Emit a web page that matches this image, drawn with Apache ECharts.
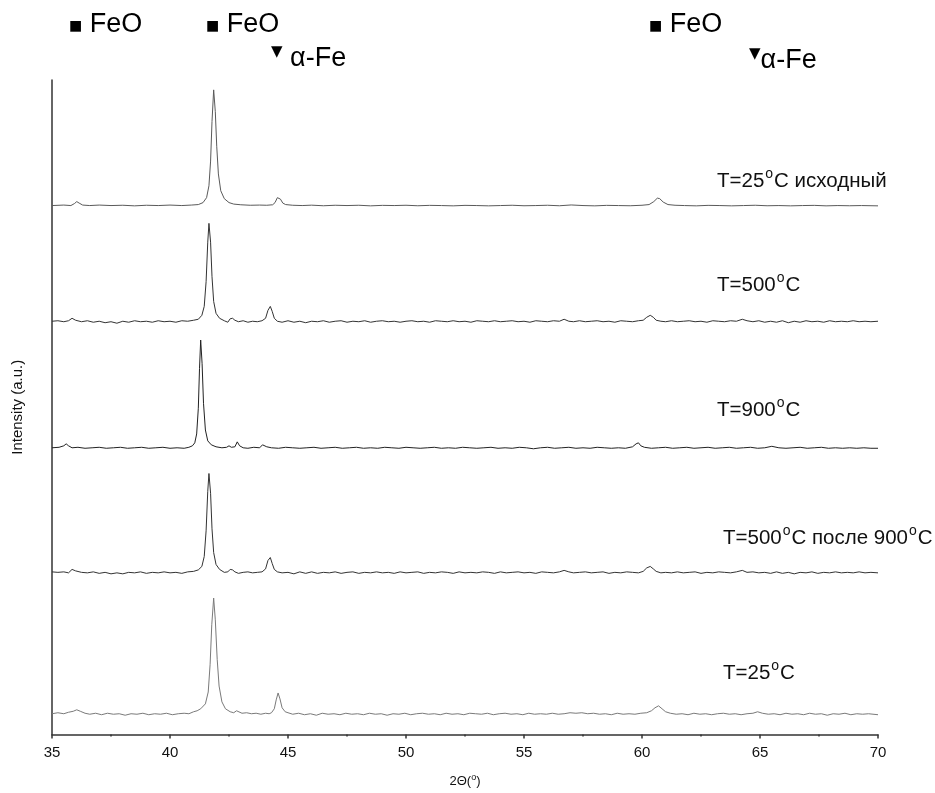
<!DOCTYPE html>
<html>
<head>
<meta charset="utf-8">
<script src="https://cdn.jsdelivr.net/npm/echarts@6/dist/echarts.min.js"></script>
<style>
html,body{margin:0;padding:0;background:#fff;}
#chart{width:935px;height:793px;}
</style>
</head>
<body>
<div id="chart"></div>
<script>
// ---- data (2θ in degrees, intensity in arbitrary units above each trace's own baseline) ----
const traceNames = ['T=25°C исходный', 'T=500°C', 'T=900°C', 'T=500°C после 900°C', 'T=25°C'];
const traceOffsets = [535, 418, 290, 164, 21];

const t25initial = [
[35.0,0],[35.5,0.5],[35.8,0],[35.95,2],[36.05,4],[36.15,2.5],[36.3,0.5],[36.6,0],[37.0,0.5],[37.5,0],[38.0,0.3],[38.5,-0.3],[39.0,0.3],[39.5,0],[40.0,0.5],[40.5,0],[40.9,0.5],[41.2,1],[41.4,3],[41.55,8],[41.65,20],[41.72,45],[41.78,85],[41.85,117],[41.92,95],[41.98,60],[42.05,32],[42.15,15],[42.3,7],[42.5,3],[42.7,1.5],[43.0,0.8],[43.4,0.3],[43.8,0.5],[44.1,0.3],[44.35,0.8],[44.45,3],[44.55,8],[44.6,9],[44.68,6.5],[44.78,2.5],[44.9,1],[45.2,0.3],[45.6,0],[46.0,0.4],[46.5,-0.2],[47.0,0.3],[47.5,0],[48.0,0.3],[48.5,-0.3],[49.0,0.2],[49.5,0],[50.0,0.3],[50.5,-0.2],[51.0,0.2],[51.5,0],[52.0,-0.3],[52.5,0.2],[53.0,0],[53.5,-0.3],[54.0,0],[54.5,0.3],[55.0,-0.2],[55.5,0],[56.0,0.3],[56.5,-0.2],[57.0,0.6],[57.5,0],[58.0,-0.3],[58.5,0.2],[59.0,0],[59.5,-0.2],[60.0,0.3],[60.3,1],[60.5,4],[60.65,7.5],[60.75,7],[60.9,3.5],[61.1,1],[61.4,0.3],[61.8,0],[62.3,-0.3],[62.8,0.2],[63.3,0],[63.8,-0.3],[64.3,0],[64.8,0.3],[65.3,-0.2],[65.8,0],[66.3,-0.3],[66.8,0],[67.3,0.2],[67.8,-0.3],[68.3,0],[68.8,-0.2],[69.3,0],[70.0,-0.3]
];

const t500 = [
[35.0,0],[35.25,0.5],[35.5,-0.5],[35.7,0.5],[35.85,3],[36.0,1],[36.25,-0.5],[36.5,0.5],[36.75,-1],[37.0,0],[37.25,-1.5],[37.5,-0.5],[37.75,-2],[38.0,0],[38.25,-1],[38.5,0.5],[38.75,-0.5],[39.0,0],[39.25,-1],[39.5,0.5],[39.75,-0.5],[40.0,0],[40.25,-1],[40.5,0.5],[40.75,0],[41.0,1],[41.2,2],[41.35,6],[41.45,15],[41.53,40],[41.6,80],[41.65,99],[41.72,80],[41.78,45],[41.85,20],[41.95,8],[42.1,3],[42.3,0.5],[42.45,-1],[42.55,2.5],[42.65,3],[42.75,1],[42.9,-0.5],[43.1,0.5],[43.3,-1],[43.5,0],[43.7,-0.5],[43.9,0.5],[44.05,3],[44.15,11],[44.25,15],[44.33,10],[44.42,3],[44.55,0],[44.75,-1],[45.0,0.5],[45.25,-1],[45.5,0],[45.75,-1.5],[46.0,0],[46.25,-0.5],[46.5,0.5],[46.75,-1],[47.0,0],[47.25,0.5],[47.5,-1],[47.75,0],[48.0,-0.5],[48.25,0.5],[48.5,-1],[48.75,0],[49.0,0.5],[49.25,-0.5],[49.5,0],[49.75,-1],[50.0,0],[50.25,0.5],[50.5,-0.5],[50.75,0],[51.0,-1],[51.25,0.5],[51.5,0],[51.75,-0.5],[52.0,0.5],[52.25,-0.5],[52.5,0],[52.75,-1],[53.0,0.5],[53.25,0],[53.5,-0.5],[53.75,0.5],[54.0,-0.5],[54.25,0],[54.5,0.5],[54.75,-0.5],[55.0,0],[55.25,-1],[55.5,0.5],[55.75,0],[56.0,-0.5],[56.25,0.5],[56.5,0],[56.7,2],[56.9,0],[57.1,-0.5],[57.35,0.5],[57.6,-0.5],[57.85,0],[58.1,0.5],[58.35,-0.5],[58.6,0],[58.85,-1],[59.1,0.5],[59.35,0],[59.6,-0.5],[59.85,0.5],[60.05,1],[60.2,4],[60.35,6],[60.48,4],[60.6,1],[60.8,0],[61.0,-0.5],[61.25,0.5],[61.5,-0.5],[61.75,0],[62.0,0.5],[62.25,-0.5],[62.5,0],[62.75,-1],[63.0,0.5],[63.25,0],[63.5,-0.5],[63.75,0.5],[64.0,0],[64.25,2],[64.45,0.5],[64.7,-0.5],[64.95,0.5],[65.2,-1],[65.45,0],[65.7,-1],[65.95,0.5],[66.2,-1.5],[66.45,0],[66.7,-1],[66.95,0.5],[67.2,-0.5],[67.45,0],[67.7,-1],[67.95,0.5],[68.2,-0.5],[68.45,0],[68.7,-0.5],[68.95,0.5],[69.2,-0.5],[69.45,0],[69.7,-0.5],[70.0,0]
];

const t900 = [
[35.0,0],[35.3,0.5],[35.5,2],[35.6,4],[35.7,2],[35.85,0],[36.1,0.5],[36.4,-0.5],[36.7,0],[37.0,0.5],[37.3,-0.5],[37.6,0],[37.9,0.5],[38.2,-0.5],[38.5,0],[38.8,0.5],[39.1,-0.5],[39.4,0],[39.7,0.5],[40.0,-0.5],[40.3,0],[40.6,-0.5],[40.8,0.5],[40.95,2],[41.05,5],[41.13,14],[41.2,40],[41.25,80],[41.3,109],[41.36,85],[41.42,45],[41.5,18],[41.6,7],[41.75,3],[41.95,1],[42.2,0],[42.4,0.5],[42.5,2],[42.6,0.5],[42.75,1],[42.85,6],[42.95,2],[43.1,0],[43.3,-0.5],[43.55,0.5],[43.8,0],[43.92,3],[44.0,4],[44.1,1],[44.3,0],[44.6,-0.5],[44.9,0.5],[45.2,0],[45.5,-0.5],[45.8,0],[46.1,0.5],[46.4,-0.5],[46.7,0],[47.0,0.5],[47.3,-0.5],[47.6,0],[47.9,0.5],[48.2,-0.5],[48.5,0],[48.8,-0.5],[49.1,0.5],[49.4,0],[49.7,-0.5],[50.0,0.5],[50.3,0],[50.6,-0.5],[50.9,0],[51.2,0.5],[51.5,-0.5],[51.8,0],[52.1,-0.5],[52.4,0.5],[52.7,0],[53.0,-0.5],[53.3,0],[53.6,0.5],[53.9,-0.5],[54.2,0],[54.5,-0.5],[54.8,0.5],[55.1,0],[55.4,-1],[55.7,0],[56.0,0.5],[56.3,-0.5],[56.6,0],[56.9,0.5],[57.2,-0.5],[57.5,0],[57.8,-0.5],[58.1,0.5],[58.4,0],[58.7,-0.5],[59.0,0],[59.3,-0.5],[59.6,1],[59.75,4],[59.85,5],[59.95,2],[60.1,0.5],[60.4,-0.5],[60.7,0],[61.0,0.5],[61.3,-0.5],[61.6,0],[61.9,0.5],[62.2,-0.5],[62.5,0],[62.8,0.5],[63.1,-0.5],[63.4,0],[63.7,0.5],[64.0,-0.5],[64.3,0],[64.6,0.5],[64.9,-0.5],[65.2,0],[65.5,1.5],[65.8,0],[66.1,-0.5],[66.4,0],[66.7,0.5],[67.0,-0.5],[67.3,0],[67.6,0.5],[67.9,-0.5],[68.2,0],[68.5,-0.5],[68.8,0],[69.1,-0.5],[69.4,0],[69.7,-0.5],[70.0,-0.5]
];

const t500after900 = [
[35.0,0.5],[35.25,0],[35.5,0.5],[35.7,-0.5],[35.85,3],[36.0,1.5],[36.25,0],[36.5,-0.5],[36.75,0.5],[37.0,-1],[37.25,0],[37.5,-1.5],[37.75,-0.5],[38.0,-1.5],[38.25,0],[38.5,-0.5],[38.75,0.5],[39.0,-1],[39.25,0],[39.5,-0.5],[39.75,0.5],[40.0,-0.5],[40.25,0],[40.5,-1],[40.75,0.5],[41.0,1],[41.2,2.5],[41.35,6],[41.45,16],[41.53,42],[41.6,82],[41.65,100],[41.72,80],[41.78,44],[41.85,20],[41.95,8],[42.1,3],[42.3,0],[42.45,0.5],[42.55,3],[42.65,2.5],[42.75,0.5],[42.9,-1],[43.1,0],[43.3,0.5],[43.5,-0.5],[43.7,0],[43.9,0.5],[44.05,3.5],[44.15,12],[44.25,15],[44.33,9],[44.42,3],[44.55,0.5],[44.75,-0.5],[45.0,0],[45.25,-1.5],[45.5,0.5],[45.75,-1],[46.0,0.5],[46.25,-1],[46.5,0],[46.75,-0.5],[47.0,0.5],[47.25,-1],[47.5,0],[47.75,0.5],[48.0,-1],[48.25,0],[48.5,-0.5],[48.75,0.5],[49.0,-0.5],[49.25,0],[49.5,-1],[49.75,0.5],[50.0,-0.5],[50.25,0],[50.5,0.5],[50.75,-1],[51.0,0],[51.25,-0.5],[51.5,0.5],[51.75,0],[52.0,-1],[52.25,0.5],[52.5,-0.5],[52.75,0],[53.0,-0.5],[53.25,0.5],[53.5,0],[53.75,-1],[54.0,0.5],[54.25,-0.5],[54.5,0],[54.75,0.5],[55.0,-0.5],[55.25,0],[55.5,-1],[55.75,0.5],[56.0,0],[56.25,-0.5],[56.5,0.5],[56.7,2],[56.9,0.5],[57.1,-0.5],[57.35,0],[57.6,0.5],[57.85,-0.5],[58.1,0],[58.35,0.5],[58.6,-1],[58.85,0],[59.1,-0.5],[59.35,0.5],[59.6,0],[59.85,-0.5],[60.05,1],[60.2,4.5],[60.35,6],[60.48,3.5],[60.6,1],[60.8,-0.5],[61.0,0],[61.25,-0.5],[61.5,0.5],[61.75,-0.5],[62.0,0],[62.25,0.5],[62.5,-1],[62.75,0],[63.0,-0.5],[63.25,0.5],[63.5,0],[63.75,-0.5],[64.0,0.5],[64.25,2],[64.45,0],[64.7,0.5],[64.95,-0.5],[65.2,0],[65.45,-1],[65.7,0.5],[65.95,-1],[66.2,0],[66.45,-1.5],[66.7,0],[66.95,-0.5],[67.2,0.5],[67.45,-1],[67.7,0],[67.95,-0.5],[68.2,0.5],[68.45,-0.5],[68.7,0],[68.95,-0.5],[69.2,0.5],[69.45,-0.5],[69.7,0],[70.0,-0.5]
];

const t25 = [
[35.0,0],[35.25,1],[35.5,0],[35.7,1.5],[35.9,2.5],[36.05,4],[36.2,2.5],[36.4,0.5],[36.6,-0.5],[36.85,0.5],[37.1,-1],[37.35,0.5],[37.6,-0.5],[37.85,0],[38.1,-1.5],[38.35,0],[38.6,-0.5],[38.85,0.5],[39.1,-1],[39.35,0],[39.6,-0.5],[39.85,0.5],[40.1,-1],[40.35,0],[40.6,0.5],[40.8,0],[41.0,2],[41.15,3],[41.3,5],[41.5,10],[41.62,22],[41.7,50],[41.77,90],[41.85,117],[41.92,95],[42.0,55],[42.08,28],[42.2,12],[42.35,5],[42.55,2],[42.7,1],[42.82,3],[42.9,2.5],[43.05,0.5],[43.25,1],[43.45,0],[43.65,0.5],[43.85,-0.5],[44.05,0.5],[44.2,0],[44.3,1],[44.42,5],[44.5,14],[44.58,21],[44.66,15],[44.75,6],[44.88,2],[45.0,1],[45.2,-0.5],[45.45,0.5],[45.7,-1],[45.95,0],[46.2,-1.5],[46.45,0.5],[46.7,-0.5],[46.95,0],[47.2,-1],[47.45,0.5],[47.7,-0.5],[47.95,0],[48.2,-1],[48.45,0.5],[48.7,-0.5],[48.95,0],[49.2,-1.5],[49.45,0],[49.7,-0.5],[49.95,0.5],[50.2,-1],[50.45,0],[50.7,0.5],[50.95,-0.5],[51.2,0],[51.45,-1],[51.7,0.5],[51.95,-0.5],[52.2,0],[52.45,-1],[52.7,0.5],[52.95,0],[53.2,-0.5],[53.45,0.5],[53.7,-1],[53.95,0],[54.2,0.5],[54.45,-0.5],[54.7,0],[54.95,-1],[55.2,0.5],[55.45,-0.5],[55.7,0],[55.95,-0.5],[56.2,0.5],[56.45,-0.5],[56.7,0],[56.95,1],[57.2,0.5],[57.45,1],[57.7,0],[57.95,0.5],[58.2,-0.5],[58.45,0],[58.7,-1],[58.95,0.5],[59.2,-0.5],[59.45,0],[59.7,-0.5],[59.95,0.5],[60.2,1],[60.4,3],[60.55,6],[60.7,8],[60.85,5],[61.0,2],[61.2,0.5],[61.45,-0.5],[61.7,0],[61.95,-1],[62.2,0.5],[62.45,-0.5],[62.7,0],[62.95,-1],[63.2,0],[63.45,0.5],[63.7,-0.5],[63.95,0],[64.2,-1],[64.45,0],[64.7,0.5],[64.9,2],[65.1,0.5],[65.35,-0.5],[65.6,0],[65.85,-1],[66.1,0.5],[66.35,-0.5],[66.6,0],[66.85,-1],[67.1,0.5],[67.35,-0.5],[67.6,0],[67.85,-1.5],[68.1,0],[68.35,-0.5],[68.6,0.5],[68.85,-1],[69.1,0],[69.35,-0.5],[69.6,0],[70.0,-1]
];

const traces = [t25initial, t500, t900, t500after900, t25];
const xTicks = [35, 40, 45, 50, 55, 60, 65, 70];

// ---- styles / layout ----
const traceColors = ['#5a5a5a', '#333333', '#222222', '#333333', '#7a7a7a'];
const labelPos = [[717, 181], [717, 285], [717, 410], [723, 538], [723, 673]];
const FONT = '"Liberation Sans", Arial, sans-serif';

const chart = echarts.init(document.getElementById('chart'), null, {renderer: 'canvas'});

function degRich(text) {
  const parts = text.split('°');
  let s = '';
  parts.forEach((p, i) => {
    s += '{a|' + p + '}';
    if (i < parts.length - 1) s += '{s|o}';
  });
  return s;
}

const series = traces.map((tr, i) => ({
  type: 'line',
  name: traceNames[i],
  data: tr.map(p => [p[0], p[1] + traceOffsets[i]]),
  showSymbol: false,
  symbol: 'none',
  smooth: false,
  lineStyle: {color: traceColors[i], width: 1},
  silent: true,
  animation: false
}));

const graphics = traceNames.map((nm, i) => ({
  type: 'text',
  left: labelPos[i][0],
  top: labelPos[i][1] - 14,
  style: {
    text: degRich(nm),
    fill: '#111',
    rich: {
      a: {fontSize: 20.5, fontFamily: FONT, fill: '#111', lineHeight: 28, verticalAlign: 'middle'},
      s: {fontSize: 14, fontFamily: FONT, fill: '#111', lineHeight: 28, verticalAlign: 'top', padding: [0, 1, 0, 1]}
    }
  }
}));

const annRich = {
  sq: {fontSize: 14, fontFamily: '"DejaVu Sans", sans-serif', fill: '#000', lineHeight: 32, verticalAlign: 'middle', padding: [4, 0, 0, 0]},
  tr: {fontSize: 15, fontFamily: '"DejaVu Sans", sans-serif', fill: '#000', lineHeight: 32, verticalAlign: 'top', padding: [2, 0, 0, 0]},
  t: {fontSize: 27, fontFamily: FONT, fill: '#000', lineHeight: 32, verticalAlign: 'middle'}
};
const annotations = [
  {x: 69, y: 11, text: '{sq|■}{t| FeO}'},
  {x: 206, y: 11, text: '{sq|■}{t| FeO}'},
  {x: 271, y: 43, text: '{tr|▼}{t| α-Fe}'},
  {x: 649, y: 11, text: '{sq|■}{t| FeO}'},
  {x: 749, y: 45, text: '{tr|▼}{t|α-Fe}'}
];
annotations.forEach(a => graphics.push({
  type: 'text', left: a.x, top: a.y,
  style: {text: a.text, rich: annRich}
}));

chart.setOption({
  backgroundColor: '#fff',
  animation: false,
  grid: {left: 52, right: 57, top: 80, bottom: 51, containLabel: false},
  xAxis: {
    type: 'value',
    min: xTicks[0],
    max: xTicks[xTicks.length - 1],
    interval: 5,
    name: '{a|2Θ(}{s|o}{a|)}',
    nameLocation: 'middle',
    nameGap: 39,
    nameTextStyle: {
      rich: {
        a: {fontSize: 13, fontFamily: FONT, color: '#111', lineHeight: 16, verticalAlign: 'middle'},
        s: {fontSize: 9, fontFamily: FONT, color: '#111', lineHeight: 16, verticalAlign: 'top'}
      }
    },
    axisLine: {show: true, lineStyle: {color: '#333', width: 1.5}},
    axisTick: {show: true, inside: false, length: 4, lineStyle: {color: '#333', width: 1.5}},
    minorTick: {show: true, splitNumber: 2, length: 2, lineStyle: {color: '#333', width: 1.5}},
    axisLabel: {fontSize: 15, fontFamily: FONT, color: '#111', margin: 11},
    splitLine: {show: false}
  },
  yAxis: {
    type: 'value',
    min: 0,
    max: 662,
    name: 'Intensity (a.u.)',
    nameLocation: 'middle',
    nameGap: 27,
    nameRotate: 90,
    nameTextStyle: {fontSize: 15, fontFamily: FONT, color: '#111'},
    axisLine: {show: true, lineStyle: {color: '#333', width: 1.5}},
    axisTick: {show: false},
    axisLabel: {show: false},
    splitLine: {show: false}
  },
  series: series,
  graphic: graphics
});
</script>
</body>
</html>
